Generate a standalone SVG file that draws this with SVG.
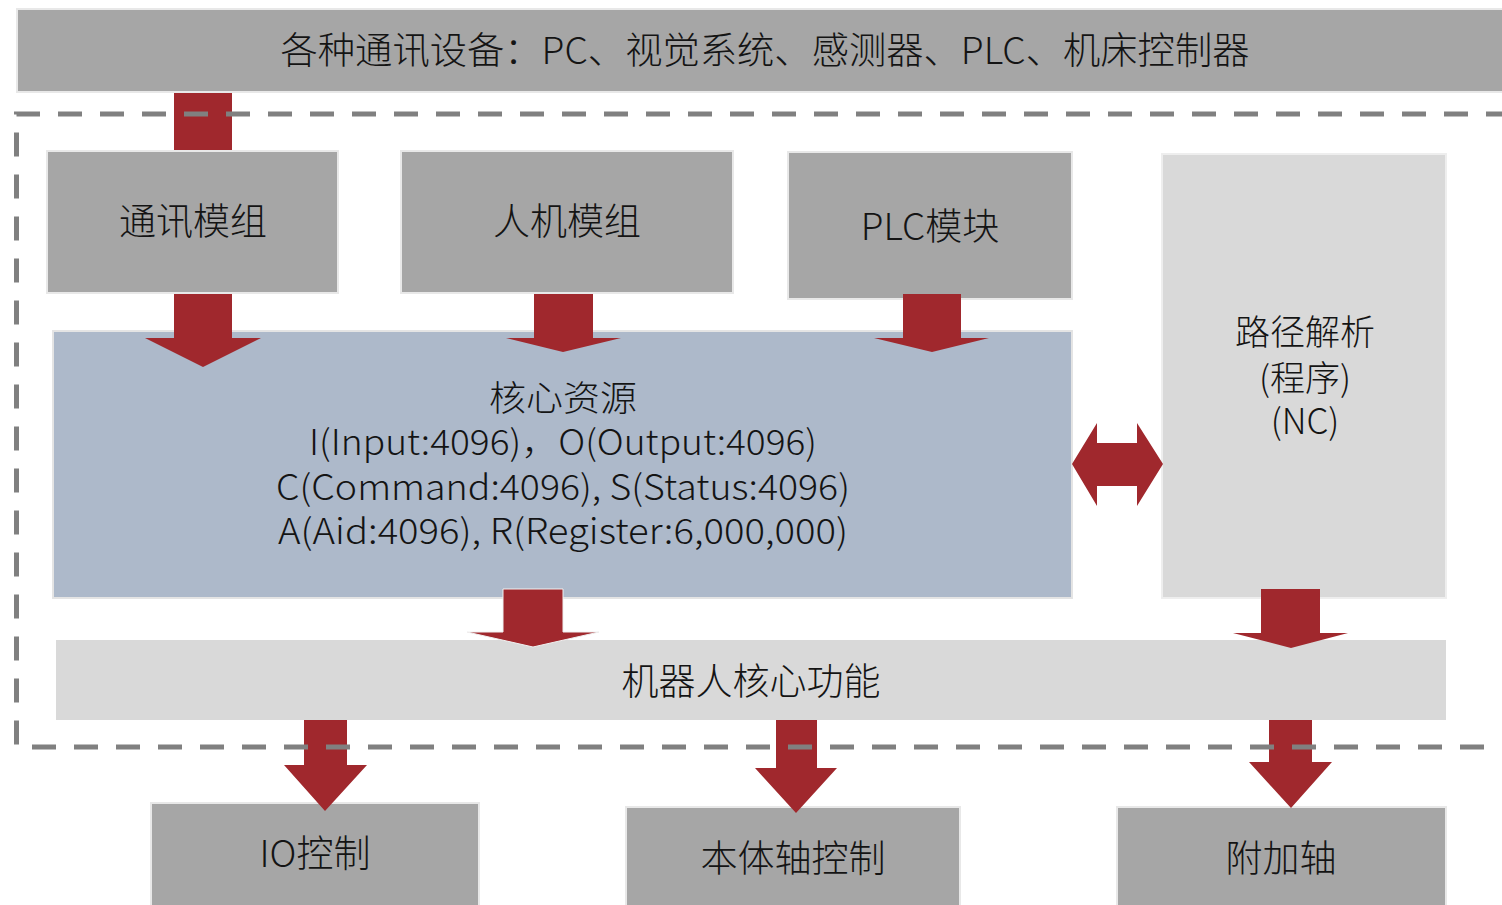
<svg xmlns="http://www.w3.org/2000/svg" width="1502" height="905" viewBox="0 0 1502 905">
<style>
.dark{fill:#a6a6a6;stroke:#e8e8e8;stroke-width:2}
.light{fill:#d9d9d9;stroke:#eeeeee;stroke-width:2}
.core{fill:#adb9ca;stroke:#e4e4e4;stroke-width:2}
.arr{fill:#a0282d}
.t{font-family:"Noto Sans CJK SC","Noto Sans",sans-serif;font-weight:300;font-size:37px;fill:#141414;text-anchor:middle;dominant-baseline:central}
.s{font-size:35px}
.dash{fill:none;stroke:#808080;stroke-width:5;stroke-dasharray:24 18}
</style>
<rect width="1502" height="905" fill="#ffffff"/>
<g id="top">
<rect class="dark" x="17" y="9" width="1500" height="83"/>
<text class="t" x="765" y="48" textLength="969" lengthAdjust="spacingAndGlyphs">各种通讯设备：PC、视觉系统、感测器、PLC、机床控制器</text>
</g>
<g id="comm">
<rect class="dark" x="47" y="151" width="291" height="142"/>
<text class="t" x="193" y="219">通讯模组</text>
</g>
<g id="hmi">
<rect class="dark" x="401" y="151" width="332" height="142"/>
<text class="t" x="567" y="219">人机模组</text>
</g>
<g id="plc">
<rect class="dark" x="788" y="152" width="284" height="147"/>
<text class="t" x="930" y="224">PLC模块</text>
</g>
<g id="path">
<rect class="light" x="1162" y="154" width="284" height="444"/>
<text class="t s" x="1305" y="329">路径解析</text>
<text class="t s" x="1305" y="375">(程序)</text>
<text class="t s" x="1305" y="418">(NC)</text>
</g>
<g id="core">
<rect class="core" x="53" y="331" width="1019" height="267"/>
<text class="t s" x="563" y="395" textLength="148" lengthAdjust="spacingAndGlyphs">核心资源</text>
<text class="t s" x="563" y="439" textLength="508" lengthAdjust="spacingAndGlyphs">I(Input:4096)，O(Output:4096)</text>
<text class="t s" x="563" y="484" textLength="574" lengthAdjust="spacingAndGlyphs">C(Command:4096), S(Status:4096)</text>
<text class="t s" x="563" y="528" textLength="570" lengthAdjust="spacingAndGlyphs">A(Aid:4096), R(Register:6,000,000)</text>
</g>
<g id="robot">
<rect fill="#d9d9d9" x="56" y="640" width="1390" height="80"/>
<text class="t" x="751" y="679">机器人核心功能</text>
</g>
<g id="io">
<rect class="dark" x="151" y="803" width="328" height="110"/>
<text class="t" x="315" y="851">IO控制</text>
</g>
<g id="body">
<rect class="dark" x="626" y="807" width="334" height="110"/>
<text class="t" x="793" y="856">本体轴控制</text>
</g>
<g id="extra">
<rect class="dark" x="1117" y="807" width="329" height="110"/>
<text class="t" x="1281" y="856">附加轴</text>
</g>
<g id="connectors">
<rect class="arr" x="174" y="93" width="58" height="57"/>
<polygon class="arr" points="174,294 232,294 232,338 261,338 203,367 145,338 174,338"/>
<polygon class="arr" points="534,294 593,294 593,338 621,338 563,352 506,338 534,338"/>
<polygon class="arr" points="903,294 961,294 961,338 989,338 932,352 874,338 903,338"/>
<polygon class="arr" points="1072,464 1097,423 1097,443 1137,443 1137,423 1163,464 1137,506 1137,486 1097,486 1097,506"/>
<polygon class="arr" points="503,589 563,589 563,632 599,632 533,647 467,632 503,632" stroke="#f0f0f0" stroke-width="1"/>
<polygon class="arr" points="1261,589 1320,589 1320,633 1348,633 1291,648 1233,633 1261,633"/>
<polygon class="arr" points="304,720 347,720 347,765 367,765 325,811 284,765 304,765"/>
<polygon class="arr" points="776,720 817,720 817,768 837,768 796,813 755,768 776,768"/>
<polygon class="arr" points="1269,720 1312,720 1312,762 1332,762 1291,808 1249,762 1269,762"/>
</g>
<g id="boundary">
<path class="dash" d="M1510,114 H16.5 V747 H1510"/>
</g>
</svg>
